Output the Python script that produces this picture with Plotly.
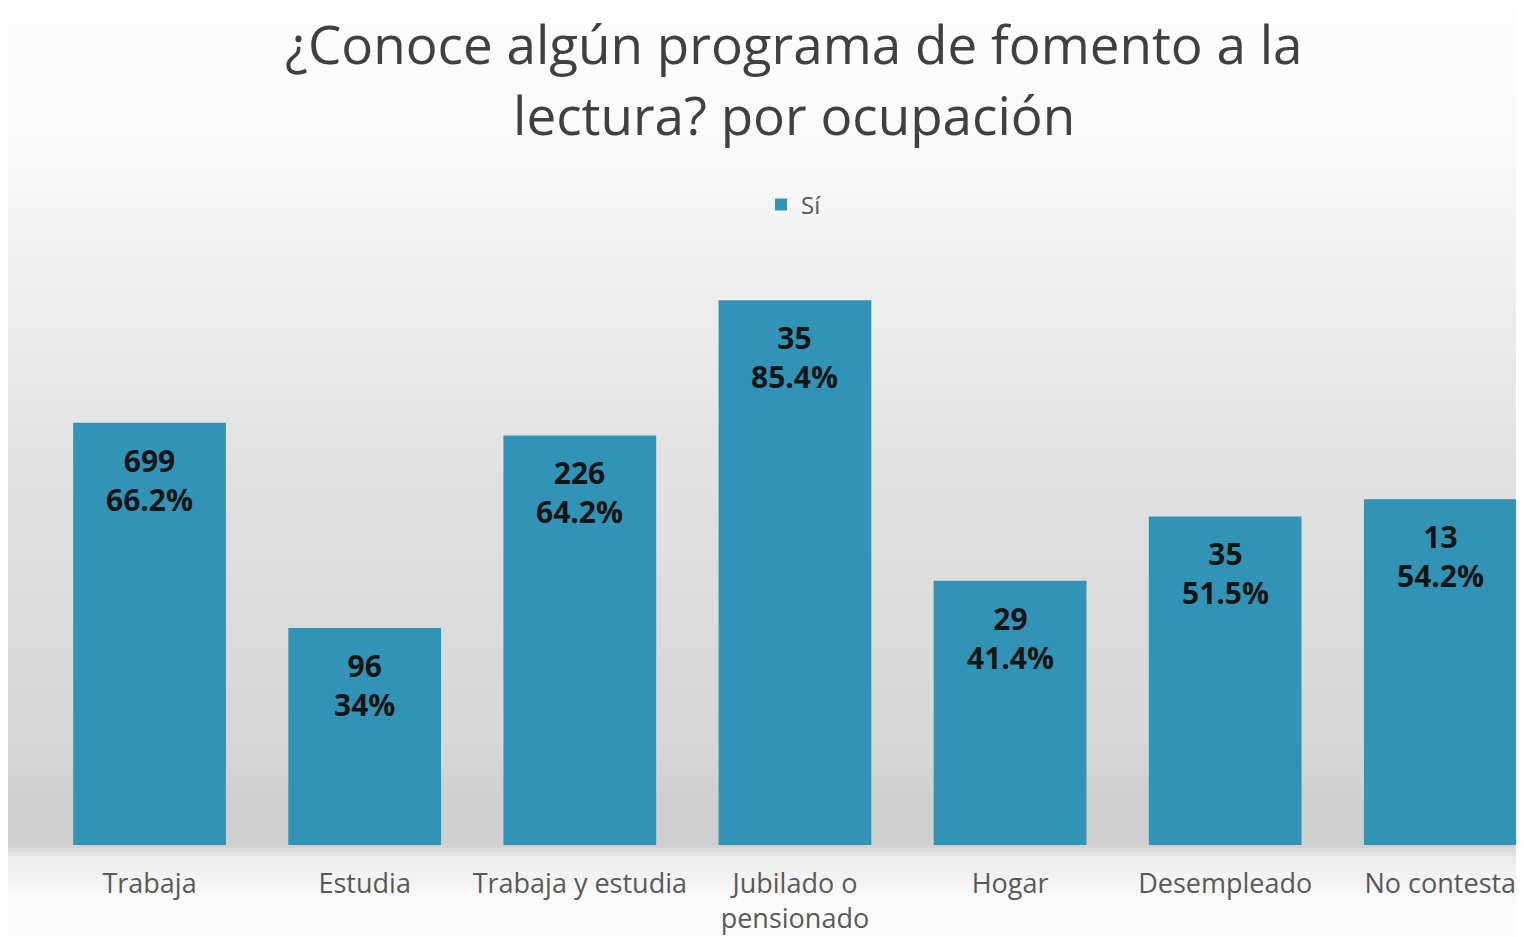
import plotly.graph_objects as go

categories = ["Trabaja", "Estudia", "Trabaja y estudia", "Jubilado o<br>pensionado",
              "Hogar", "Desempleado", "No contesta"]
counts = [699, 96, 226, 35, 29, 35, 13]
percents = [66.2, 34.0, 64.2, 85.4, 41.4, 51.5, 54.2]
pct_labels = ["66.2%", "34%", "64.2%", "85.4%", "41.4%", "51.5%", "54.2%"]
series_name = "Sí"
title_lines = ["¿Conoce algún programa de fomento a la", "lectura? por ocupación"]

# page body adds an 8px margin, so the figure is sized to fit the window
W, H = 1516, 929
L, R, T, B = 34, 0, 199, 92
PW, PH = W - L - R, H - T - B
FONT = "Open Sans"


def px_x(x):  # figure pixel -> plot-area paper fraction
    return (x - L) / PW


def px_y(y):
    return (H - B - y) / PH


fig = go.Figure()
fig.add_trace(go.Bar(
    x=categories, y=percents, name=series_name,
    marker=dict(color="#3194b6", line=dict(width=0)),
    hoverinfo="skip",
))

# data labels
for c, n, p, v in zip(categories, counts, pct_labels, percents):
    fig.add_annotation(x=c, y=v, xref="x", yref="y",
                       text=f"<b>{n}</b><br><b>{p}</b>", showarrow=False,
                       yanchor="top", yshift=-15,
                       font=dict(family=FONT, size=30, color="#141414"))

# title, one annotation per line
for line, yc in zip(title_lines, [35, 107]):
    fig.add_annotation(x=px_x(786), y=px_y(yc), xref="paper", yref="paper",
                       xanchor="center", yanchor="middle", showarrow=False,
                       borderpad=0, text=line,
                       font=dict(family=FONT, size=53, color="#404040"))

# background gradient (vertical), stops in figure pixel rows -> gray level
stops = [(0, 253), (140, 249), (300, 237), (450, 226), (600, 219), (750, 214),
         (790, 207), (837, 207), (850, 236), (890, 250), (929, 253)]
shapes = []
step = 4
for y0 in range(0, H, step):
    ym = y0 + step / 2
    g = 253
    for (a, ga), (b, gb) in zip(stops[:-1], stops[1:]):
        if a <= ym <= b:
            g = int(round(ga + (gb - ga) * (ym - a) / (b - a)))
            break
    shapes.append(dict(type="rect", xref="paper", yref="paper", layer="below",
                       x0=px_x(0), x1=1.0,
                       y0=px_y(min(y0 + step + 1, H)), y1=px_y(y0),
                       fillcolor=f"rgb({g},{g},{g})", line=dict(width=0)))

fig.update_layout(
    width=W, height=H,
    margin=dict(l=L, r=R, t=T, b=B, pad=0, autoexpand=False),
    paper_bgcolor="white", plot_bgcolor="rgba(0,0,0,0)",
    shapes=shapes,
    bargap=0.29,
    showlegend=True,
    legend=dict(orientation="h", x=px_x(794 - 8), xanchor="center", xref="paper",
                y=px_y(205 - 8), yanchor="middle", yref="paper",
                font=dict(family=FONT, size=24, color="#595959"),
                bgcolor="rgba(0,0,0,0)", itemwidth=30),
    xaxis=dict(range=[-0.5, 6.389], showgrid=False, zeroline=False, showline=False,
               ticks="", ticklabelstandoff=20, automargin=False,
               tickfont=dict(family=FONT, size=27, color="#595959")),
    yaxis=dict(range=[0, 100], visible=False, showgrid=False, automargin=False),
)

fig.write_html("out.html")
